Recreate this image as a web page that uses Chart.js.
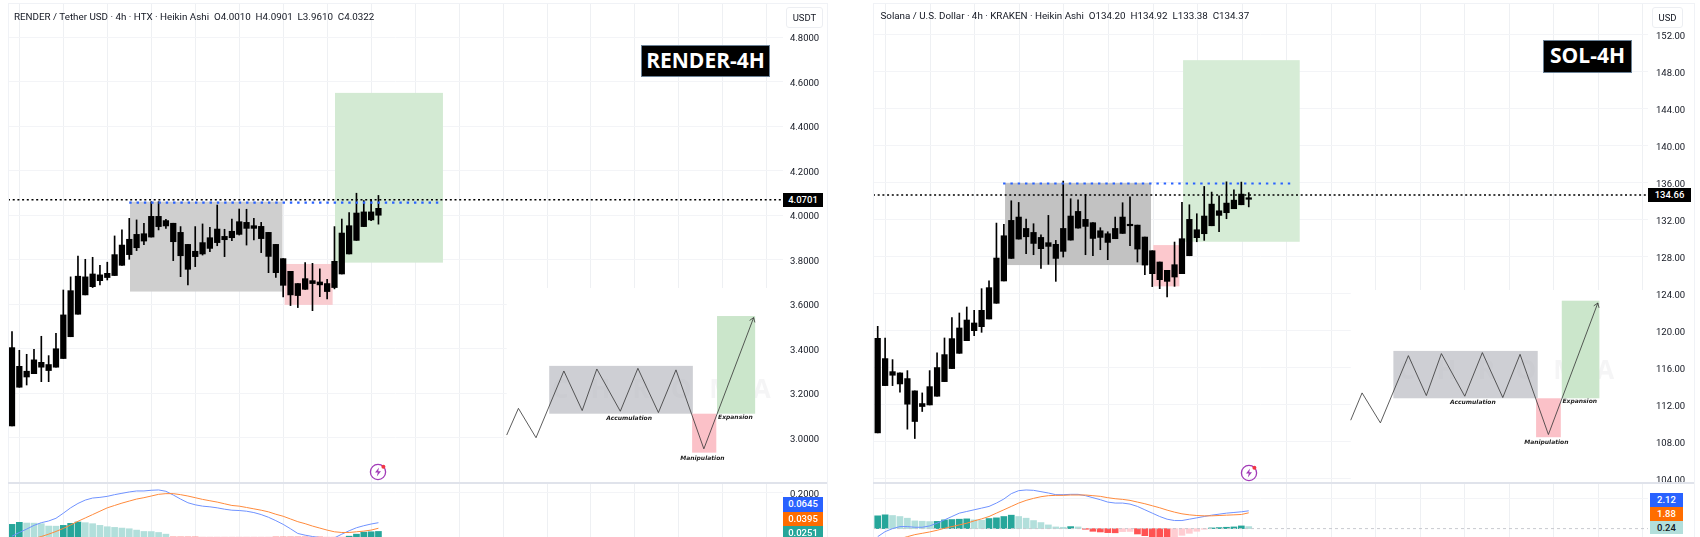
<!DOCTYPE html>
<html>
<head>
<meta charset="utf-8">
<title>RENDER and SOL 4H</title>
<script src="https://cdn.jsdelivr.net/npm/chart.js@4/dist/chart.umd.min.js"></script>
<style>
    html, body { margin: 0; padding: 0; background: #fff; width: 1700px; height: 537px; overflow: hidden; }
    canvas { position: absolute; }
    .frame { position: absolute; border: 1px solid #f0f2f6; border-bottom: 0; pointer-events: none; }
    .divider { position: absolute; height: 1.5px; background: #e0e3eb; }
    .header { position: absolute; font-family: Roboto, sans-serif; color: #131722; white-space: pre; line-height: 12px; }
    .unit { position: absolute; box-sizing: border-box; border: 1px solid #eceef2; border-radius: 3px; background: #fff; font: 9.5px Roboto, sans-serif; color: #131722; text-align: center; line-height: 19px; height: 21px; }
    .badge { position: absolute; box-sizing: border-box; background: #000; border: 1.5px solid #6c8296; color: #fff; font-family: "Open Sans", sans-serif; font-weight: 700; text-align: center; }
    .tag { position: absolute; font: 500 9.5px Roboto, sans-serif; color: #fff; text-align: center; }
    svg { position: absolute; }
</style>
</head>
<body>

<canvas id="renderPrice" width="819" height="485" style="left:8px;top:3px"></canvas>
<canvas id="renderMacd" width="819" height="55" style="left:8px;top:482px"></canvas>
<canvas id="solPrice" width="821" height="485" style="left:873px;top:3px"></canvas>
<canvas id="solMacd" width="821" height="55" style="left:873px;top:482px"></canvas>

<div class="frame" style="left:8px;top:3px;width:818px;height:534px"></div>
<div class="frame" style="left:873px;top:3px;width:820px;height:534px"></div>
<div class="divider" style="left:8px;top:482px;width:819px"></div>
<div class="divider" style="left:873px;top:482px;width:821px"></div>

<div class="header" style="left:14px;top:10.5px;font-size:9.8px">RENDER / Tether USD · 4h · HTX · Heikin Ashi  O4.0010  H4.0901  L3.9610  C4.0322</div>
<div class="header" style="left:880.5px;top:9.5px;font-size:9.8px">Solana / U.S. Dollar · 4h · KRAKEN · Heikin Ashi  O134.20  H134.92  L133.38  C134.37</div>

<div class="unit" style="left:786px;top:7px;width:37px">USDT</div>
<div class="unit" style="left:1652px;top:7px;width:31px">USD</div>

<div class="badge" style="left:641px;top:45px;width:129px;height:32px;font-size:21px;line-height:28px">RENDER-4H</div>
<div class="badge" style="left:1543px;top:40px;width:89px;height:33px;font-size:21px;line-height:29px">SOL-4H</div>

<div class="tag" style="left:783px;top:193px;width:40px;height:14px;line-height:14px;background:#000">4.0701</div>
<div class="tag" style="left:1648px;top:188px;width:43px;height:14px;line-height:14px;background:#000">134.66</div>

<div class="tag" style="left:783px;top:497px;width:40px;height:14.5px;line-height:14px;background:#2962ff">0.0645</div>
<div class="tag" style="left:783px;top:511.5px;width:40px;height:14.5px;line-height:14px;background:#ff6d00">0.0395</div>
<div class="tag" style="left:783px;top:526px;width:40px;height:11px;line-height:13px;background:#26a69a">0.0251</div>

<div class="tag" style="left:1650px;top:493px;width:33px;height:14px;line-height:14px;background:#2962ff">2.12</div>
<div class="tag" style="left:1650px;top:507px;width:33px;height:14px;line-height:14px;background:#ff6d00">1.88</div>
<div class="tag" style="left:1650px;top:521px;width:33px;height:13px;line-height:13px;background:#b2dfdb;color:#131722">0.24</div>

<svg style="left:368px;top:462px" width="20" height="20" viewBox="0 0 20 20">
    <circle cx="10" cy="10" r="7.6" fill="none" stroke="#a23bb8" stroke-width="1.3"/>
    <path d="M11 5.5 L7 10.6 L9.8 10.6 L8.8 14.5 L13 9.2 L10.2 9.2 Z" fill="#a23bb8"/>
    <circle cx="15.4" cy="4.8" r="2" fill="#f23645"/>
</svg>
<svg style="left:1238.5px;top:463px" width="20" height="20" viewBox="0 0 20 20">
    <circle cx="10" cy="10" r="7.6" fill="none" stroke="#a23bb8" stroke-width="1.3"/>
    <path d="M11 5.5 L7 10.6 L9.8 10.6 L8.8 14.5 L13 9.2 L10.2 9.2 Z" fill="#a23bb8"/>
    <circle cx="15.4" cy="4.8" r="2" fill="#f23645"/>
</svg>

<script>
// RENDER candles (heikin ashi, 4h)
const renderOpen = [3.054,3.228,3.300,3.289,3.318,3.330,3.318,3.357,3.455,3.556,3.643,3.680,3.707,3.721,3.730,3.776,3.824,3.855,3.885,3.903,3.950,3.977,3.965,3.924,3.870,3.839,3.827,3.852,3.878,3.891,3.900,3.915,3.969,3.954,3.951,3.924,3.870,3.806,3.749,3.694,3.668,3.707,3.701,3.694,3.676,3.737,3.827,3.888,3.950,3.980,4.001];
const renderHigh = [3.478,3.394,3.376,3.398,3.457,3.370,3.470,3.665,3.724,3.818,3.803,3.812,3.776,3.790,3.908,3.935,3.987,3.980,3.965,4.062,4.062,3.983,3.965,3.950,3.870,3.950,3.962,3.947,4.047,3.938,3.984,4.029,4.028,3.987,3.969,3.924,3.870,3.806,3.749,3.694,3.788,3.785,3.760,3.713,3.950,3.984,4.013,4.100,4.067,4.073,4.0901];
const renderLow = [3.054,3.228,3.238,3.289,3.253,3.253,3.318,3.357,3.455,3.556,3.643,3.676,3.688,3.710,3.730,3.776,3.803,3.842,3.869,3.903,3.935,3.942,3.797,3.725,3.688,3.770,3.822,3.837,3.864,3.815,3.887,3.912,3.867,3.890,3.833,3.743,3.721,3.634,3.595,3.586,3.668,3.572,3.635,3.625,3.670,3.737,3.827,3.888,3.950,3.977,3.961];
const renderClose = [3.406,3.322,3.274,3.351,3.340,3.303,3.401,3.553,3.662,3.727,3.724,3.737,3.733,3.740,3.824,3.867,3.893,3.915,3.918,3.996,3.996,3.953,3.882,3.819,3.758,3.815,3.878,3.900,3.939,3.906,3.929,3.972,3.942,3.942,3.896,3.816,3.743,3.686,3.643,3.640,3.716,3.694,3.688,3.658,3.794,3.921,3.954,4.011,4.016,4.016,4.0322];

// RENDER MACD pane
const renderMacdLine = [0.0037,0.0204,0.0356,0.0524,0.0646,0.0722,0.0844,0.1072,0.1315,0.1513,0.1665,0.1757,0.1787,0.1833,0.1909,0.1970,0.2031,0.2076,0.2076,0.2107,0.2122,0.2061,0.1894,0.1711,0.1544,0.1452,0.1391,0.1361,0.1315,0.1254,0.1209,0.1194,0.1163,0.1102,0.1011,0.0889,0.0737,0.0570,0.0372,0.0159,0.0082,0.0022,-0.0024,-0.0085,-0.0039,0.0128,0.0280,0.0417,0.0509,0.0585,0.0645];
const renderSignal = [-0.06,-0.045,-0.03,-0.0070,0.0022,0.0128,0.0250,0.0387,0.0539,0.0707,0.0859,0.1011,0.1163,0.1315,0.1422,0.1528,0.1620,0.1711,0.1772,0.1848,0.1924,0.1955,0.1955,0.1909,0.1848,0.1772,0.1696,0.1635,0.1574,0.1498,0.1422,0.1391,0.1331,0.1270,0.1209,0.1133,0.1026,0.0935,0.0813,0.0691,0.0600,0.0493,0.0402,0.0311,0.0235,0.0204,0.0204,0.0235,0.0265,0.0311,0.0395];
const renderHist = [0.057,0.0661,0.063,0.0625,0.06,0.0493,0.0488,0.0524,0.0615,0.0676,0.0646,0.06,0.0524,0.0463,0.0433,0.0402,0.0372,0.0311,0.025,0.0245,0.0204,0.0128,-0.006,-0.02,-0.03,-0.032,-0.0305,-0.0274,-0.0259,-0.0244,-0.0244,-0.0228,-0.0197,-0.0168,-0.0168,-0.0168,-0.0196,-0.0256,-0.0289,-0.0365,-0.0441,-0.0441,-0.0471,-0.0426,-0.0350,-0.0107,0.0037,0.0128,0.0219,0.0235,0.0251];

// RENDER axis ticks and marked regions: [first candle, last candle, low, high]
const renderPriceTicks = [3.0,3.2,3.4,3.6,3.8,4.0,4.2,4.4,4.6,4.8];
const renderMacdTicks = [0.2];
const renderLast = 4.0701;
const renderResistance = 4.058;
const renderAccumZone = [16.1,36.9,3.658,4.062];
const renderManipZone = [37.2,43.75,3.598,3.782];
const renderExpanZone = [44.07,58.8,3.788,4.551];

// RENDER schematic in the lower right
const renderSketchX = [67.5,69.1,71.5,75.3,77.8,79.8,83.0,85.4,88.2,90.6,94.4,101.2];
const renderSketchY = [3.013,3.133,3.001,3.301,3.123,3.310,3.120,3.313,3.114,3.306,2.951,3.541];

// SOL candles (heikin ashi, 4h)
const solOpen = [108.95,114.06,115.57,115.43,114.82,113.49,111.80,111.97,112.91,114.49,115.90,117.55,118.92,120.00,120.43,121.26,122.96,125.37,127.81,129.90,131.05,130.62,130.08,129.11,129.33,128.57,129.79,131.09,132.03,131.67,130.08,130.48,129.94,130.51,131.41,131.41,130.12,128.64,127.42,126.52,125.80,126.16,128.10,130.05,130.48,131.34,132.46,132.75,133.18,133.61,134.20];
const solHigh = [120.47,119.21,116.87,115.43,115.68,113.49,113.27,115.68,117.59,119.21,121.41,121.91,122.56,122.20,124.54,125.40,131.63,131.49,134.04,133.86,132.06,131.56,130.37,132.46,129.76,136.17,134.26,134.15,134.73,131.67,131.13,130.69,132.28,133.83,134.47,131.41,130.12,128.64,127.42,126.52,129.58,133.86,133.61,132.64,135.59,134.98,134.58,136.09,135.23,136.06,134.92];
const solLow = [108.95,114.06,114.06,113.34,109.35,108.34,111.26,111.97,112.91,114.49,115.90,117.55,118.92,119.46,119.82,121.26,122.96,125.37,127.81,129.90,128.32,128.21,126.73,127.17,125.33,127.96,129.79,131.09,128.21,128.10,128.75,127.67,129.94,130.51,129.18,127.42,126.05,124.76,124.54,123.64,124.79,126.16,128.10,129.61,129.76,131.34,130.69,132.10,133.18,133.61,133.38];
const solClose = [119.17,116.98,115.18,114.24,112.05,110.18,112.12,113.95,116.01,117.41,119.14,120.29,121.15,120.83,122.20,124.65,127.85,130.26,131.92,132.28,130.15,129.43,128.86,129.51,127.81,131.05,132.39,132.89,131.27,129.97,130.80,129.54,131.05,132.28,131.34,128.82,127.09,126.16,125.51,125.33,127.13,129.94,132.03,130.91,132.39,133.68,132.96,133.79,134.11,134.76,134.37];

// SOL MACD pane
const solMacdLine = [-0.96,-0.36,0,0.24,0.24,0.16,0.16,0.32,0.64,1.04,1.44,1.84,2.04,2.24,2.44,2.64,3.04,3.52,4.16,4.52,4.6,4.56,4.4,4.24,4.04,4.04,4.08,4.08,3.92,3.68,3.44,3.16,3.04,3.04,2.92,2.64,2.24,1.84,1.44,1.12,0.96,0.96,1.12,1.28,1.44,1.6,1.72,1.84,1.92,2.0,2.12];
const solSignal = [-1.8,-1.6,-1.4,-1.2,-0.96,-0.72,-0.56,-0.4,-0.2,0.04,0.24,0.44,0.64,0.92,1.16,1.44,1.84,2.24,2.64,3.04,3.36,3.6,3.8,3.92,3.96,3.96,4,4,4,3.92,3.84,3.68,3.56,3.48,3.36,3.16,2.96,2.72,2.48,2.2,1.96,1.76,1.64,1.56,1.52,1.52,1.56,1.6,1.64,1.68,1.88];
const solHist = [1.52,1.64,1.56,1.44,1.24,0.92,0.88,0.84,0.86,1.04,1.08,1.12,1.16,1.04,1.0,1.2,1.28,1.44,1.6,1.44,1.24,0.96,0.72,0.44,0.2,0.16,0.24,0.2,-0.08,-0.32,-0.4,-0.48,-0.5,-0.36,-0.34,-0.64,-0.84,-0.96,-1,-1.02,-0.96,-0.8,-0.56,-0.32,-0.08,0.08,0.12,0.16,0.2,0.32,0.24];

// SOL axis ticks and marked regions
const solPriceTicks = [104,108,112,116,120,124,128,132,136,140,144,148,152];
const solMacdTicks = [3.6];
const solLast = 134.66;
const solResistance = 135.91;
const solAccumZone = [17.16,36.83,127.09,135.95];
const solManipZone = [37.14,40.65,124.79,129.25];
const solExpanZone = [41.15,56.87,129.61,149.24];

// SOL schematic
const solSketchX = [63.74,65.27,67.74,71.51,73.93,75.96,79.11,81.48,84.23,86.56,90.38,97.04];
const solSketchY = [110.32,113.27,110.03,117.30,112.98,117.52,112.91,117.63,112.77,117.44,108.77,122.99];

const GRID_H = '#f3f4f7';
const GRID_V = '#eef0f3';
const TICK_FONT = {family: 'Roboto', size: 9.5};

function xyBars(lo, hi) {
    return lo.map((v, i) => ({x: i, y: [v, hi[i]]}));
}

function xyLine(xs, ys) {
    return xs.map((v, i) => ({x: v, y: ys[i]}));
}

function gridStops(first, step, count) {
    var stops = [];
    for (let k = 0; k < count; k++) {
        stops.push(first + step * k);
    }
    return stops;
}

function histColors(hist) {
    return hist.map((v, i) => {
        var rising = i === 0 || v >= hist[i - 1];
        if (v >= 0) {
            return rising ? '#26a69a' : '#b2dfdb';
        }
        return rising ? '#ffcdd2' : '#ff5252';
    });
}

function fillBox(ctx, sx, sy, z, color) {
    var x0 = sx.getPixelForValue(z[0]);
    var x1 = sx.getPixelForValue(z[1]);
    var y0 = sy.getPixelForValue(z[3]);
    var y1 = sy.getPixelForValue(z[2]);
    ctx.fillStyle = color;
    ctx.fillRect(x0, y0, x1 - x0, y1 - y0);
}

// shaded regions, white inset behind the schematic, its labels and arrow
function makeRegionsPlugin(c) {
    return {
        id: 'regions',
        beforeDatasetsDraw(chart) {
            const ctx = chart.ctx;
            const sx = chart.scales.x;
            const sy = chart.scales.y;
            ctx.save();
            fillBox(ctx, sx, sy, c.inset, '#ffffff');
            fillBox(ctx, sx, sy, c.accum, c.accumColor);
            fillBox(ctx, sx, sy, c.manip, c.manipColor);
            fillBox(ctx, sx, sy, c.expan, c.expanColor);

            // watermark
            ctx.font = 'bold 26px "Open Sans"';
            ctx.fillStyle = 'rgba(190,192,198,0.16)';
            ctx.textAlign = 'center';
            ctx.textBaseline = 'middle';
            'CHROMA'.split('').forEach((ch, i) => {
                ctx.fillText(ch, sx.getPixelForValue(c.markX + c.markStep * i), sy.getPixelForValue(c.markY));
            });

            fillBox(ctx, sx, sy, c.sketchAccum, 'rgba(180,182,190,0.66)');
            fillBox(ctx, sx, sy, c.sketchManip, '#fbc1c8');
            fillBox(ctx, sx, sy, c.sketchExpan, '#cbe6cb');
            ctx.restore();
        },
        afterDatasetsDraw(chart) {
            const ctx = chart.ctx;
            const sx = chart.scales.x;
            const sy = chart.scales.y;
            ctx.save();
            ctx.font = 'italic bold 6px "DejaVu Sans"';
            ctx.fillStyle = '#222';
            ctx.textAlign = 'center';
            ctx.textBaseline = 'middle';
            c.labels.forEach((t) => {
                ctx.fillText(t[0], sx.getPixelForValue(t[1]), sy.getPixelForValue(t[2]));
            });

            // arrow head on the schematic
            const n = c.sketchX.length - 1;
            const ex = sx.getPixelForValue(c.sketchX[n]);
            const ey = sy.getPixelForValue(c.sketchY[n]);
            const a = Math.atan2(ey - sy.getPixelForValue(c.sketchY[n - 1]), ex - sx.getPixelForValue(c.sketchX[n - 1]));
            ctx.strokeStyle = '#333';
            ctx.lineWidth = 0.8;
            ctx.beginPath();
            ctx.moveTo(ex - 5 * Math.cos(a - 0.6), ey - 5 * Math.sin(a - 0.6));
            ctx.lineTo(ex, ey);
            ctx.lineTo(ex - 5 * Math.cos(a + 0.6), ey - 5 * Math.sin(a + 0.6));
            ctx.stroke();
            ctx.restore();
        },
    };
}

function priceChart(id, c) {
    return new Chart(document.getElementById(id).getContext('2d'), {
        type: 'bar',
        data: {
            datasets: [
                {
                    data: xyBars(c.low, c.high),
                    backgroundColor: '#000',
                    barThickness: 1,
                    grouped: false,
                    order: 3,
                },
                {
                    data: xyBars(c.open, c.close),
                    backgroundColor: '#000',
                    barThickness: 5.6,
                    minBarLength: 1.5,
                    grouped: false,
                    order: 2,
                },
                {
                    type: 'line',
                    data: xyLine([c.xMin, c.xMax], [c.last, c.last]),
                    borderColor: '#000',
                    borderWidth: 1.5,
                    borderDash: [2, 2.7],
                    pointRadius: 0,
                    order: 1,
                },
                {
                    type: 'line',
                    data: xyLine(c.resX, [c.resistance, c.resistance]),
                    borderColor: '#2962ff',
                    borderWidth: 2.2,
                    borderDash: [2.4, 4.9],
                    pointRadius: 0,
                    order: 1,
                },
                {
                    type: 'line',
                    data: xyLine(c.sketchX, c.sketchY),
                    borderColor: '#333',
                    borderWidth: 0.8,
                    pointRadius: 0,
                    order: 1,
                },
            ],
        },
        options: {
            responsive: false,
            animation: false,
            layout: {padding: {bottom: 6}},
            plugins: {legend: {display: false}, title: {display: false}, tooltip: {enabled: false}},
            scales: {
                x: {
                    type: 'linear',
                    min: c.xMin,
                    max: c.xMax,
                    offset: false,
                    grid: {color: GRID_V, offset: false, drawTicks: false},
                    border: {display: false},
                    ticks: {display: false},
                    afterBuildTicks: (s) => { s.ticks = c.grid.map((v) => ({value: v})); },
                    afterFit: (s) => { s.height = 0; s.paddingLeft = 0; s.paddingRight = 0; },
                },
                y: {
                    position: 'right',
                    min: c.yMin,
                    max: c.yMax,
                    grid: {color: GRID_H, drawTicks: false},
                    border: {display: false},
                    ticks: {
                        font: TICK_FONT,
                        color: '#131722',
                        padding: c.tickPad,
                        labelOffset: 1.5,
                        callback: (v) => v.toFixed(c.digits),
                    },
                    afterBuildTicks: (s) => { s.ticks = c.ticks.map((v) => ({value: v})); },
                    afterFit: (s) => { s.width = c.axisW; s.paddingTop = 0; s.paddingBottom = 0; },
                },
            },
        },
        plugins: [makeRegionsPlugin(c)],
    });
}

function macdChart(id, c) {
    return new Chart(document.getElementById(id).getContext('2d'), {
        type: 'bar',
        data: {
            datasets: [
                {
                    data: c.hist.map((v, i) => ({x: i, y: v})),
                    backgroundColor: histColors(c.hist),
                    barThickness: 6,
                    order: 3,
                },
                {
                    type: 'line',
                    data: xyLine([c.xMin, c.xMax], [0, 0]),
                    hidden: !c.showZero,
                    borderColor: '#c8cad0',
                    borderWidth: 1,
                    borderDash: [3, 3],
                    pointRadius: 0,
                    order: 2,
                },
                {
                    type: 'line',
                    data: c.signal.map((v, i) => ({x: i, y: v})),
                    borderColor: '#ff8a3c',
                    borderWidth: 1,
                    pointRadius: 0,
                    order: 1,
                },
                {
                    type: 'line',
                    data: c.macd.map((v, i) => ({x: i, y: v})),
                    borderColor: '#6f92ff',
                    borderWidth: 1,
                    pointRadius: 0,
                    order: 1,
                },
            ],
        },
        options: {
            responsive: false,
            animation: false,
            plugins: {legend: {display: false}, title: {display: false}, tooltip: {enabled: false}},
            scales: {
                x: {
                    type: 'linear',
                    min: c.xMin,
                    max: c.xMax,
                    offset: false,
                    grid: {color: GRID_V, offset: false, drawTicks: false},
                    border: {display: false},
                    ticks: {display: false},
                    afterBuildTicks: (s) => { s.ticks = c.grid.map((v) => ({value: v})); },
                    afterFit: (s) => { s.height = 0; s.paddingLeft = 0; s.paddingRight = 0; },
                },
                y: {
                    position: 'right',
                    min: c.yMin,
                    max: c.yMax,
                    grid: {color: GRID_H, drawTicks: false},
                    border: {display: false},
                    ticks: {
                        font: TICK_FONT,
                        color: '#131722',
                        padding: c.tickPad,
                        labelOffset: 1.5,
                        callback: (v) => c.showTick ? v.toFixed(4) : '',
                    },
                    afterBuildTicks: (s) => { s.ticks = c.ticks.map((v) => ({value: v})); },
                    afterFit: (s) => { s.width = c.axisW; s.paddingTop = 0; s.paddingBottom = 0; },
                },
            },
        },
    });
}

const renderGrid = gridStops(1, 6, 18);
const solGrid = gridStops(1.1, 6, 18);

priceChart('renderPrice', {
    open: renderOpen, high: renderHigh, low: renderLow, close: renderClose,
    last: renderLast, resistance: renderResistance, resX: [16, 58.8],
    xMin: -0.546, xMax: 105.2, yMin: 2.802, yMax: 4.955,
    ticks: renderPriceTicks, grid: renderGrid, digits: 4, axisW: 44, tickPad: 7,
    accum: renderAccumZone, accumColor: '#cfcfcf',
    manip: renderManipZone, manipColor: '#f9ccd0',
    expan: renderExpanZone, expanColor: '#d3ead3',
    inset: [67.5, 105.2, 2.802, 3.674],
    sketchX: renderSketchX, sketchY: renderSketchY,
    sketchAccum: [73.3, 92.9, 3.109, 3.324],
    sketchManip: [92.8, 96.1, 2.934, 3.109],
    sketchExpan: [96.2, 101.4, 3.109, 3.548],
    markX: 74.8, markStep: 5.5, markY: 3.212,
    labels: [['Accumulation', 84.2, 3.087], ['Manipulation', 94.2, 2.908], ['Expansion', 98.7, 3.09]],
});

priceChart('solPrice', {
    open: solOpen, high: solHigh, low: solLow, close: solClose,
    last: solLast, resistance: solResistance, resX: [16.9, 56.2],
    xMin: -0.633, xMax: 103.8, yMin: 103.64, yMax: 155.42,
    ticks: solPriceTicks, grid: solGrid, digits: 2, axisW: 46, tickPad: 8,
    accum: solAccumZone, accumColor: '#c2c2c2',
    manip: solManipZone, manipColor: '#fcc8cd',
    expan: solExpanZone, expanColor: '#d6ecd6',
    inset: [63.74, 103.8, 103.64, 124.4],
    sketchX: solSketchX, sketchY: solSketchY,
    sketchAccum: [69.49, 88.94, 112.69, 117.81],
    sketchManip: [88.72, 92.05, 108.48, 112.69],
    sketchExpan: [92.18, 97.25, 112.69, 123.24],
    markX: 71.3, markStep: 5.35, markY: 115.6,
    labels: [['Accumulation', 80.2, 112.2], ['Manipulation', 90.1, 107.9], ['Expansion', 94.6, 112.3]],
});

macdChart('renderMacd', {
    macd: renderMacdLine, signal: renderSignal, hist: renderHist,
    xMin: -0.546, xMax: 105.2, yMin: 0, yMax: 0.248,
    ticks: renderMacdTicks, grid: renderGrid, axisW: 44, tickPad: 7, showTick: true, showZero: false,
});

macdChart('solMacd', {
    macd: solMacdLine, signal: solSignal, hist: solHist,
    xMin: -0.633, xMax: 103.8, yMin: -1.0, yMax: 5.55,
    ticks: solMacdTicks, grid: solGrid, axisW: 46, tickPad: 8, showTick: false, showZero: true,
});
</script>
</body>
</html>
